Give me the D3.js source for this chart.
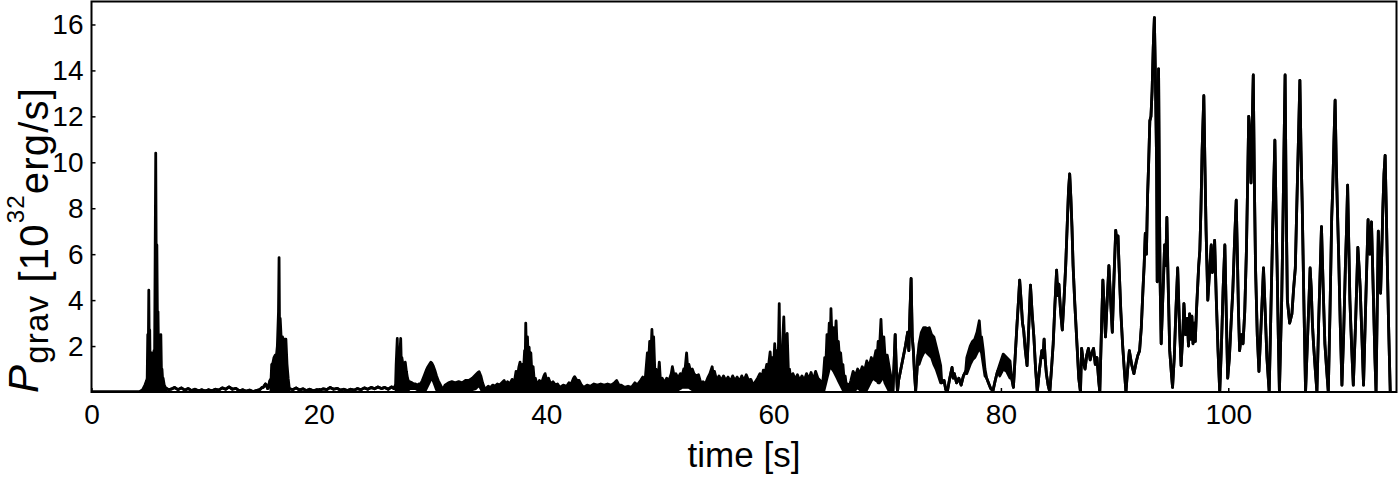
<!DOCTYPE html>
<html>
<head>
<meta charset="utf-8">
<script src="https://cdn.jsdelivr.net/npm/d3@7"></script>
<style>
  html, body { margin: 0; padding: 0; background: #fff; }
  svg { display: block; font-family: "Liberation Sans", Arial, sans-serif; }
</style>
</head>
<body>
<svg id="chart" width="1400" height="477"></svg>
<script>
// ---- data ----
// each sample: [time (s), upper P_grav, lower P_grav (optional, for densely oscillating stretches)] in 1e32 erg/s
const segQuietStart = [[0,0],[4.2,0],[4.5,0.1,0],[4.7,0.3,0],[4.85,0.5,0]];
const segBurst1 = [[4.9,0.6,0],[4.95,2.5,0],[5.0,2.0,0],[5.04,4.43,0],[5.08,2.0,0],[5.12,2.7,0],[5.16,1.0,0],[5.2,1.6,0],[5.25,1.0,0],[5.3,1.7,0],
  [5.35,1.1,0],[5.4,1.3,0],[5.45,1.0,0],[5.5,1.8,0],[5.55,1.5,0],[5.6,6.0,0],[5.65,10.4,0],[5.7,5.0,0],[5.75,6.4,0],[5.8,3.0,0],
  [5.85,3.5,0],[5.9,1.5,0],[5.95,1.6,0],[6.0,1.2,0],[6.05,1.4,0],[6.1,2.5,0],[6.15,1.0,0],[6.2,1.0,0],[6.25,0.6,0],[6.3,0.6,0],
  [6.4,0.3,0],[6.5,0.2,0],[6.6,0.15],[6.8,0.1],[7.0,0.12]];
const segQuiet1 = [[7.3,0.2],[7.6,0.1],[7.9,0.18],[8.2,0.08],[8.5,0.15],[8.8,0.06],[9.1,0.12],[9.4,0.05],[9.7,0.1],[10.0,0.04],
  [10.3,0.1],[10.6,0.05],[10.9,0.12],[11.2,0.08],[11.5,0.18],[11.8,0.12],[12.1,0.22],[12.4,0.12],[12.7,0.16],[13.0,0.05],
  [13.3,0.1],[13.6,0.03],[13.9,0.08],[14.2,0.02],[14.5,0.06],[14.8,0.1],[15.0,0.2]];
const segBurst2 = [[15.1,0.2],[15.3,0.35],[15.5,0.15],[15.7,0.5],[15.8,0.6,0],[15.85,1.2,0],[15.95,1.25,0],[16.05,1.5,0],[16.15,1.6,0],[16.25,1.5,0],
  [16.35,2.0,0],[16.45,3.5,0],[16.5,5.85,0],[16.55,2.0,0],[16.6,3.2,0],[16.7,2.2,0],[16.8,2.4,0],[16.9,2.2,0],[17.0,2.3,0],[17.1,2.3,0],
  [17.2,1.2,0],[17.3,0.6,0],[17.4,0.15]];
const segQuiet2 = [[17.7,0.1],[18.0,0.18],[18.3,0.08],[18.6,0.14],[18.9,0.06],[19.2,0.12],[19.5,0.05],[19.8,0.1],[20.1,0.08],[20.4,0.14],
  [20.7,0.1],[21.0,0.2],[21.3,0.12],[21.6,0.16],[21.9,0.08],[22.2,0.12],[22.5,0.06],[22.8,0.12],[23.1,0.08],[23.4,0.15],
  [23.7,0.1],[24.0,0.18],[24.3,0.12],[24.6,0.2],[24.9,0.14],[25.2,0.22],[25.5,0.15],[25.8,0.2],[26.1,0.12],[26.4,0.22],[26.6,0.15]];
const segBurst3 = [[26.75,0.3],[26.8,1.2,0],[26.9,2.33,0],[26.95,0.8,0],[27.05,1.0,0],[27.2,2.33,0],[27.25,1.3,0],[27.3,1.5,0],[27.4,1.2,0],[27.5,1.1,0],
  [27.6,1.3,0],[27.7,0.9,0],[27.8,0.6,0.05],[27.9,0.45,0.1],[28.0,0.45,0.15],[28.2,0.4,0.15],[28.35,0.35,0.15],[28.5,0.35,0.15],[28.65,0.3,0.1],[28.8,0.35,0.1]];
const segMid1 = [[28.95,0.35,0.1],[29.1,0.5,0],[29.3,0.75,0],[29.45,0.95,0.15],[29.6,1.1,0.3],[29.75,1.22,0.45],[29.85,1.3,0.55],[29.95,1.25,0.6],[30.05,1.15,0.5],[30.2,0.95,0.3],
  [30.35,0.7,0.1],[30.5,0.5,0],[30.65,0.35,0],[30.8,0.2,0],[30.95,0.15,0],
  [31.1,0.3,0.05],[31.4,0.4,0.05],[31.7,0.45,0.05],[32.0,0.4,0.05],[32.3,0.45,0.05],[32.6,0.4,0.05],[32.9,0.5,0.05],[33.2,0.5,0.05],[33.5,0.6,0.1],[33.8,0.75,0.15],
  [34.0,0.85,0.25],[34.1,0.88,0.3],[34.25,0.7,0.15],[34.4,0.4,0],[34.55,0.2,0],
  [34.7,0.15,0],[34.9,0.25,0],[35.1,0.2,0],[35.3,0.3,0],[35.5,0.25,0],[35.7,0.35,0],[35.9,0.3,0],[36.1,0.4,0],[36.3,0.5,0],[36.45,0.3,0],
  [36.6,0.45,0],[36.8,0.35,0],[37.0,0.55,0],[37.2,0.45,0],[37.35,0.9,0],[37.45,0.6,0],[37.6,1.1,0],[37.7,1.3,0],[37.8,0.8,0],[37.9,1.2,0],
  [38.0,0.9,0],[38.1,1.8,0],[38.15,1.2,0],[38.2,3.0,0],[38.27,1.5,0],[38.35,2.4,0],[38.42,1.4,0],[38.5,1.95,0],[38.58,1.0,0],[38.65,1.7,0],
  [38.75,0.7,0],[38.85,1.1,0],[38.95,0.5,0],[39.05,0.6,0],[39.2,0.3,0]];
const segMid2 = [[39.4,0.5,0],[39.6,0.4,0],[39.8,0.7,0],[39.9,0.8,0],[40.05,0.5,0],[40.2,0.6,0],[40.4,0.35,0],[40.6,0.45,0],[40.8,0.3,0],[41.0,0.35,0],
  [41.2,0.2,0],[41.5,0.3,0],[41.8,0.25,0],[42.0,0.4,0],[42.2,0.35,0],[42.4,0.6,0],[42.5,0.67,0],[42.7,0.5,0.1],[42.9,0.5,0.05],[43.1,0.3,0],
  [43.3,0.2,0],[43.6,0.3,0],[43.9,0.25,0],[44.2,0.35,0],[44.5,0.3,0],[44.8,0.35,0],[45.1,0.3,0],[45.4,0.35,0],[45.7,0.3,0],[46.0,0.4,0],
  [46.2,0.5,0],[46.4,0.3,0],[46.6,0.3,0],[46.9,0.2,0],[47.2,0.25,0],[47.5,0.2,0],[47.8,0.4,0],[48.0,0.3,0],[48.3,0.5,0],[48.5,0.65,0],
  [48.7,0.5,0],[48.9,1.7,0],[49.0,1.2,0],[49.1,2.2,0],[49.2,1.5,0],[49.3,2.72,0],[49.38,1.8,0],[49.45,2.4,0],[49.55,1.0,0],[49.65,1.0,0],
  [49.75,0.6,0],[49.85,0.7,0],[49.95,1.3,0],[50.05,0.5,0],[50.2,0.6,0],[50.4,0.4,0]];
const segMid3 = [[50.6,0.6,0],[50.8,0.5,0],[51.0,0.8,0],[51.1,1.1,0],[51.25,0.7,0],[51.4,0.8,0],[51.6,0.6,0.1],[51.8,0.8,0.15],[51.95,0.7,0.2],[52.1,1.0,0.2],
  [52.2,0.9,0.2],[52.35,1.7,0.2],[52.45,1.0,0.2],[52.55,1.2,0.2],[52.7,0.9,0.15],[52.85,1.0,0.1],[53.0,0.8,0],[53.2,0.7,0],[53.4,0.75,0],[53.6,0.4,0],
  [53.8,0.45,0],[54.0,0.35,0],[54.2,0.6,0],[54.4,0.8,0],[54.6,1.1,0],[54.7,0.7,0],[54.8,0.9,0],[55.0,0.5,0],[55.2,0.7,0],[55.4,0.5,0],
  [55.6,0.7,0],[55.8,0.5,0],[56.0,0.65,0],[56.2,0.45,0],[56.4,0.7,0],[56.6,0.5,0],[56.8,0.65,0],[57.0,0.45,0],[57.2,0.7,0],[57.4,0.5,0],
  [57.6,0.75,0],[57.8,0.5,0],[58.0,0.55,0],[58.2,0.3,0],[58.4,0.45,0],[58.6,0.6,0],[58.8,0.8,0],[59.0,0.7,0],[59.1,0.95,0],[59.25,0.8,0],
  [59.4,1.2,0],[59.5,0.9,0],[59.7,1.75,0],[59.8,1.0,0],[59.9,1.5,0],[60.0,1.0,0],[60.1,2.1,0],[60.2,1.3,0],[60.3,1.8,0],[60.4,1.2,0],
  [60.5,3.85,0],[60.56,1.4,0],[60.65,1.6,0],[60.72,1.0,0],[60.8,2.2,0],[60.9,3.27,0],[61.0,1.6,0],[61.1,2.2,0],[61.2,2.55,0],[61.3,1.0,0],
  [61.4,1.0,0],[61.5,0.6,0],
  [61.7,0.8,0],[61.9,0.55,0],[62.1,0.75,0],[62.3,0.5,0],[62.5,0.7,0],[62.7,0.5,0],[62.9,0.8,0],[63.1,0.55,0],[63.3,0.85,0],[63.5,0.5,0],
  [63.7,0.9,0],[63.9,0.6,0],[64.1,0.5,0],[64.3,0.3,0]];
const segMid4 = [[64.4,0.8,0],[64.5,1.5,0.2],[64.6,1.2,0.4],[64.7,2.5,0.6],[64.8,1.8,0.8],[64.9,3.0,1.0],[65.0,2.4,1.1],[65.05,3.63,1.1],[65.15,2.2,1.0],[65.3,2.8,0.9],
  [65.4,2.2,0.8],[65.5,3.1,0.7],[65.6,1.9,0.6],[65.7,2.2,0.5],[65.8,1.5,0.4],[65.9,1.7,0.3],[66.0,1.1,0.2],[66.1,1.2,0.1],[66.2,0.6,0],[66.3,0.7,0],
  [66.4,0.3,0],[66.5,0.35,0],[66.6,0.15,0],
  [66.8,0.5,0],[67.0,0.9,0],[67.2,0.7,0.1],[67.4,1.0,0.2],[67.6,0.8,0.1],[67.8,1.1,0.05],[68.0,0.9,0],[68.2,1.35,0.1],[68.4,1.1,0.3],[68.6,1.5,0.5],
  [68.8,1.3,0.6],[69.0,1.8,0.5],[69.1,1.4,0.5],[69.2,2.2,0.4],[69.3,1.7,0.4],[69.45,3.16,0.5],[69.55,2.0,0.6],[69.7,2.4,0.6],[69.8,1.6,0.4],[70.0,1.6,0.2],
  [70.2,1.0,0],[70.35,0.6,0],[70.5,0.05],[70.6,1.2],[70.7,2.5],[70.8,1.0],[70.9,0.0],[71.0,0.5],[71.2,1.0],[71.4,1.5],
  [71.6,2.0],[71.8,2.6],[71.9,1.8],[72.0,3.5],[72.1,4.94],[72.2,2.4],[72.3,1.8],[72.4,0.8],[72.5,0.05],[72.6,0.8],
  [72.7,1.6],[72.8,2.1,1.2],[73.0,2.6,1.5],[73.2,2.8,1.7],[73.4,2.8,1.8],[73.5,2.75,1.7],[73.7,2.8,1.6],[73.9,2.5,1.5],[74.1,2.4,1.2],[74.3,2.0,1.0],
  [74.5,1.6,0.7],[74.7,1.15,0.4],[74.8,0.4],[75.0,0.5],[75.15,0.1],[75.3,0.05],[75.5,0.6],[75.7,1.07],[75.8,0.6],[75.9,0.8],
  [76.1,0.4],[76.3,0.6],[76.5,0.3],[76.7,0.7],[76.9,0.9],[77.0,1.5,0.8],[77.3,2.0,1.2],[77.5,2.2,1.4],[77.7,2.3,1.5],[77.9,2.6,1.7],
  [78.1,3.1,1.9],[78.2,2.4,1.8],[78.3,2.4,1.7],[78.45,1.8,1.2],[78.6,1.0,0.7],[78.75,0.6],[78.9,0.4],[79.1,0.15],[79.3,0.05],[79.5,0.5],
  [79.7,0.9],[79.9,1.2,0.7],[80.2,1.65,1.0],[80.5,1.5,0.9],[80.8,1.35,0.6],[80.95,0.6],[81.1,0.2]];
const segLate1 = [[81.25,1.5],[81.4,2.8],[81.55,4.0],[81.65,4.87],[81.8,3.8],[81.9,3.0],[82.0,2.7],[82.15,1.8],[82.3,1.15],[82.45,2.8],
  [82.6,4.65],[82.75,3.4],[82.9,2.4],[83.05,1.0],[83.2,0.0],[83.4,1.0],[83.6,1.8],[83.7,1.5],[83.8,2.3],[83.9,1.4],
  [84.0,0.8],[84.15,0.3],[84.3,0.0],[84.45,1.0],[84.6,2.1],[84.75,3.8],[84.9,5.3],[85.0,4.2],[85.1,4.7],[85.25,3.5],
  [85.4,2.7],[85.55,4.0],[85.7,5.5],[85.85,7.5],[85.95,8.8],[86.05,9.5],[86.15,8.5],[86.25,7.2],[86.35,5.5],[86.5,3.85],
  [86.7,2.0],[86.85,0.6],[87.0,0.0],[87.1,1.9],[87.25,1.3],[87.4,1.0],[87.55,1.6],[87.7,1.9],[87.85,1.4],[88.0,1.7],
  [88.15,1.9],[88.3,1.2],[88.45,1.5],[88.6,0.5],[88.7,0.0],[88.85,2.8],[88.97,4.87],[89.1,3.5],[89.2,2.4],[89.35,4.0],
  [89.5,5.5],[89.65,4.0],[89.8,2.6],[89.95,5.0],[90.1,7.04],[90.2,6.5],[90.3,6.8],[90.4,5.4],[90.55,3.5],[90.7,2.1],
  [90.85,1.0],[91.0,0.0],[91.15,1.0],[91.3,1.8],[91.5,1.2],[91.7,0.8],[91.9,1.3],[92.05,1.6],[92.2,1.8],[92.35,2.8]];
const segLate2 = [[92.5,4.5],[92.6,5.5],[92.7,6.9],[92.8,6.0],[92.9,8.5],[93.0,10.0],[93.1,11.8],[93.2,12.0],[93.3,13.1],[93.4,15.0],
  [93.5,16.3],[93.6,13.5],[93.7,9.8],[93.75,4.8],[93.8,9.0],[93.87,14.07],[93.95,8.0],[94.0,5.0],[94.1,2.1],[94.2,3.5],
  [94.3,4.9],[94.4,6.4],[94.5,5.5],[94.6,7.6],[94.7,5.0],[94.85,1.8],[95.0,0.8],[95.1,0.2],[95.25,1.5],[95.4,3.6],
  [95.55,5.4],[95.7,3.0],[95.85,1.15],[96.0,2.5],[96.1,3.85],[96.25,2.5],[96.4,3.2],[96.5,2.0],[96.6,3.4],[96.7,2.3],
  [96.8,3.3],[96.9,2.1],[97.0,3.0],[97.1,2.2],[97.2,3.5],[97.3,4.5],[97.4,5.5],[97.5,6.17],[97.6,8.0],[97.7,10.5],
  [97.85,12.9],[97.95,9.8],[98.05,7.0],[98.2,4.0],[98.35,5.2],[98.5,6.4],[98.6,5.2],[98.7,5.5],[98.8,6.6],[98.95,4.0],
  [99.1,1.8],[99.25,0.0],[99.4,2.0],[99.55,4.5],[99.7,6.4],[99.8,4.0],[99.95,0.6],[100.1,1.5],[100.25,3.0],[100.4,4.4],
  [100.55,6.5],[100.7,8.35],[100.8,6.0],[100.9,3.5],[101.0,1.8],[101.15,2.5],[101.3,2.1],[101.45,3.5],[101.6,6.2],[101.7,9.0],
  [101.8,12.0],[101.9,11.2],[102.0,9.1],[102.1,11.5],[102.2,13.8],[102.3,9.0],[102.4,5.4],[102.55,2.5],[102.7,0.9],[102.85,2.5]];
const segLate3 = [[103.0,4.2],[103.1,5.4],[103.25,3.5],[103.4,1.5],[103.6,0.0],[103.75,3.5],[103.9,6.9],[104.0,9.0],[104.1,10.96],[104.2,8.0],
  [104.3,5.4],[104.4,2.5],[104.5,0.0],[104.6,2.0],[104.7,4.0],[104.8,7.0],[104.9,10.5],[105.0,13.8],[105.1,8.0],[105.2,4.0],
  [105.4,3.0],[105.6,3.4],[105.75,4.5],[105.9,5.4],[106.0,7.5],[106.1,9.5],[106.2,11.5],[106.3,13.57],[106.4,10.5],[106.5,8.3],
  [106.65,4.0],[106.8,0.0],[106.95,2.0],[107.1,4.0],[107.2,5.4],[107.3,4.5],[107.4,3.0],[107.5,2.1],[107.65,1.0],[107.8,0.0],
  [107.95,3.0],[108.1,5.5],[108.2,7.2],[108.35,4.5],[108.5,2.1],[108.65,1.0],[108.8,0.0],[108.95,3.5],[109.1,7.6],[109.2,9.0],
  [109.3,11.0],[109.4,12.7],[109.5,10.0],[109.6,8.0],[109.7,6.2],[109.85,3.0],[110.0,0.3],[110.15,2.5],[110.3,5.4],[110.4,7.0],
  [110.5,9.0],[110.6,6.5],[110.7,4.0],[110.85,2.0],[111.0,0.3],[111.2,3.0],[111.4,6.3],[111.5,5.5],[111.6,4.6],[111.75,2.5],
  [111.9,0.3],[112.1,4.0],[112.3,7.5],[112.45,6.0],[112.6,7.4],[112.75,4.5],[112.9,1.5],[113.0,0.0],[113.1,3.5],[113.2,7.0],
  [113.3,5.5],[113.4,4.3],[113.5,6.0],[113.6,8.0],[113.7,9.5],[113.8,10.3],[113.9,8.0],[114.0,5.4],[114.1,3.0],[114.25,0.0]];

const xTicks = [0, 20, 40, 60, 80, 100];
const yTicks = [2, 4, 6, 8, 10, 12, 14, 16];
const xDomain = [0, 114.8];
const yDomain = [0, 17];

const samples = [].concat(segQuietStart, segBurst1, segQuiet1, segBurst2, segQuiet2, segBurst3,
  segMid1, segMid2, segMid3, segMid4, segLate1, segLate2, segLate3);
const hi = d => d[1];
const lo = d => (d.length > 2 ? d[2] : d[1]);

// ---- layout ----
const L = 91.5, R = 1396.5, T = 1.5, B = 392;
const svg = d3.select("#chart");
const x = d3.scaleLinear().domain(xDomain).range([L, R]);
const y = d3.scaleLinear().domain(yDomain).range([B, T]);

svg.append("clipPath").attr("id", "clip")
  .append("rect").attr("x", L).attr("y", T).attr("width", R - L).attr("height", B - T);

const plot = svg.append("g").attr("clip-path", "url(#clip)");

// densely oscillating stretches: fill between lower and upper envelope
plot.append("path").datum(samples)
  .attr("fill", "#000").attr("stroke", "none")
  .attr("d", d3.area().x(d => x(d[0])).y0(d => y(lo(d))).y1(d => y(hi(d))));

const strokeW = 2.8;
plot.append("path").datum(samples)
  .attr("fill", "none").attr("stroke", "#000").attr("stroke-width", strokeW)
  .attr("stroke-linejoin", "round")
  .attr("d", d3.line().x(d => x(d[0])).y(d => y(hi(d))));
plot.append("path").datum(samples)
  .attr("fill", "none").attr("stroke", "#000").attr("stroke-width", strokeW)
  .attr("stroke-linejoin", "round")
  .attr("d", d3.line().x(d => x(d[0])).y(d => y(lo(d))));

// axes (ticks inward)
const xAxis = d3.axisBottom(x).tickValues(xTicks).tickSizeInner(-4).tickSizeOuter(0).tickPadding(12);
const yAxis = d3.axisLeft(y).tickValues(yTicks).tickSizeInner(-4).tickSizeOuter(0).tickPadding(8);

const gx = svg.append("g").attr("transform", `translate(0,${B})`).call(xAxis);
const gy = svg.append("g").attr("transform", `translate(${L},0)`).call(yAxis);
[gx, gy].forEach(g => {
  g.select(".domain").remove();
  g.selectAll("line").attr("stroke", "#000").attr("stroke-width", 1.5);
  g.selectAll("text").attr("font-size", 28).attr("fill", "#000")
    .attr("font-family", "'Liberation Sans', Arial, sans-serif");
});

// frame
svg.append("rect").attr("x", L).attr("y", T).attr("width", R - L).attr("height", B - T)
  .attr("fill", "none").attr("stroke", "#000").attr("stroke-width", 2);

// axis titles
svg.append("text").attr("x", (L + R) / 2).attr("y", 467).attr("text-anchor", "middle")
  .attr("font-size", 35).text("time [s]");

const yl = svg.append("text").attr("transform", "translate(48,393) rotate(-90)")
  .attr("text-anchor", "start").attr("font-size", 40).attr("letter-spacing", 1.2);
yl.append("tspan").attr("font-style", "italic").attr("font-size", 42).attr("dy", -10).text("P");
yl.append("tspan").attr("font-size", 33).attr("dy", 10).text("grav");
yl.append("tspan").attr("dy", 0).text(" [10");
yl.append("tspan").attr("font-size", 24).attr("dy", -24).text("32");
yl.append("tspan").attr("dy", 24).text("erg/s]");
</script>
</body>
</html>
